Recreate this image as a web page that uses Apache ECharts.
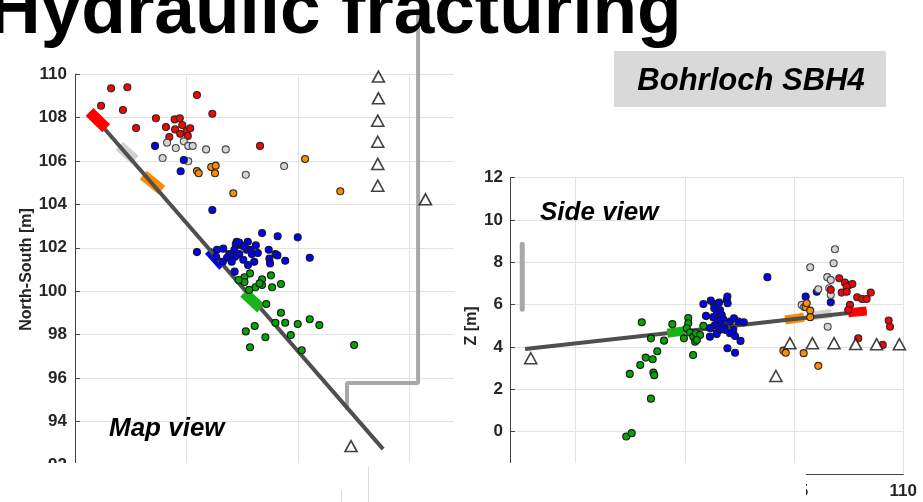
<!DOCTYPE html>
<html><head><meta charset="utf-8">
<script src="https://cdn.jsdelivr.net/npm/echarts@6/dist/echarts.min.js"></script>
<style>html,body{margin:0;padding:0;background:#fff;}#c{width:923px;height:502px;}</style>
</head><body><div id="c"></div>
<script>
// ---------- Map view (left): [East-West, North-South] ----------
const mapRed = [[41.62,109.34],[42.35,109.39],[41.17,108.54],[42.15,108.34],[42.74,107.51],[45.47,109.03],[46.16,108.17],[43.63,107.96],[44.08,107.56],[44.23,107.10],[44.47,107.91],[44.70,107.96],[44.81,107.65],[44.49,107.45],[44.72,107.25],[45.01,107.38],[45.17,107.50],[45.06,107.15],[48.30,106.69]];
const mapGray = [[44.13,106.84],[44.52,106.59],[43.93,106.13],[44.88,106.90],[45.08,106.69],[45.28,106.69],[45.08,105.98],[45.88,106.53],[46.76,106.53],[47.66,105.36],[49.38,105.76]];
const mapOrange = [[45.47,105.53],[45.55,105.43],[46.11,105.72],[46.31,105.78],[46.28,105.43],[47.10,104.51],[50.32,106.09],[51.90,104.60]];
const mapBlue = [[43.59,106.69],[44.88,106.04],[44.74,105.52],[46.16,103.74],[48.39,102.68],[49.09,102.53],[49.99,102.48],[50.53,101.54],[45.47,101.80],[46.37,101.91],[46.65,101.96],[47.25,102.27],[47.21,102.16],[47.46,102.11],[47.75,102.28],[48.11,102.11],[48.69,101.91],[48.99,101.71],[49.43,101.40],[48.72,101.50],[48.75,101.28],[47.15,101.91],[47.70,101.91],[47.88,101.91],[47.93,101.71],[48.20,101.76],[48.04,101.36],[47.76,101.21],[47.55,101.45],[47.37,101.71],[47.18,101.59],[46.92,101.71],[46.82,101.54],[47.03,101.36],[46.63,101.36],[46.33,101.59],[47.16,100.90],[49.08,101.65],[47.36,102.24],[47.60,102.05]];
const mapGreen = [[47.85,100.82],[47.60,100.64],[47.60,100.42],[48.79,100.73],[48.39,100.55],[48.39,100.29],[48.09,100.18],[47.81,100.06],[48.84,100.18],[49.24,100.33],[48.28,100.36],[48.58,99.41],[49.24,99.01],[48.99,98.55],[49.43,98.55],[49.99,98.49],[50.53,98.71],[50.96,98.44],[49.68,97.98],[48.06,98.40],[47.66,98.15],[48.54,97.88],[47.85,97.42],[50.17,97.28],[52.52,97.52],[47.34,100.52]];
const mapTriangles = [[53.61,109.88],[53.61,108.88],[53.58,107.85],[53.58,106.88],[53.58,105.86],[53.58,104.86],[55.72,104.23],[52.38,92.87]];
const mapWell = [[40.67,108.25],[53.82,92.73]];
const mapStageRed = [[40.65,108.25],[41.40,107.50]];
const mapStageGray = [[41.99,106.69],[42.69,106.04]];
const mapStageOrange = [[43.06,105.35],[43.89,104.66]];
const mapStageBlue = [[45.98,101.86],[46.62,101.13]];
const mapStageGreen = [[47.58,99.93],[48.34,99.21]];
const mapTunnel = [[55.39,113.0],[55.39,95.77],[52.20,95.77],[52.20,94.53]];

// ---------- Side view (right): [North-South, Z] ----------
const sideGreen = [[98.03,5.17],[98.45,4.41],[99.05,4.30],[98.21,3.50],[98.74,3.80],[97.96,3.15],[98.53,3.42],[97.48,2.73],[98.56,2.79],[98.60,2.67],[98.45,1.56],[97.32,-0.23],[97.57,-0.07],[99.43,5.08],[100.16,5.37],[100.16,5.12],[100.09,4.89],[100.24,4.68],[100.39,4.49],[100.51,4.65],[100.70,4.57],[100.47,4.25],[100.55,4.33],[100.85,5.00],[100.38,3.62],[99.96,4.41]];
const sideBlue = [[103.78,7.30],[100.85,6.03],[101.19,6.19],[101.34,6.03],[101.57,6.10],[101.92,6.22],[101.96,6.07],[101.35,5.83],[101.61,5.75],[101.46,5.56],[101.69,5.51],[101.30,5.41],[101.53,5.28],[101.76,5.31],[101.61,5.12],[101.38,5.04],[101.79,4.96],[102.07,5.20],[102.25,5.36],[102.45,5.20],[102.70,5.17],[102.22,4.81],[102.07,4.65],[101.84,4.81],[101.61,4.81],[101.46,4.62],[101.15,4.49],[102.30,4.52],[102.55,4.29],[101.95,3.94],[102.30,3.73],[105.53,6.38],[106.04,6.61],[106.68,6.11],[101.15,4.90],[100.97,5.47],[101.95,6.39]];
const sideGray = [[106.87,8.62],[106.81,7.96],[105.74,7.77],[106.52,7.30],[106.68,7.17],[106.61,6.78],[106.68,6.46],[106.11,6.73],[105.35,5.99],[106.54,4.96],[105.46,5.89]];
const sideRed = [[107.07,7.25],[107.33,7.04],[107.53,6.93],[107.67,6.98],[107.41,6.85],[107.18,6.57],[107.41,6.61],[108.51,6.57],[107.89,6.35],[108.12,6.27],[108.32,6.27],[107.56,5.99],[107.48,5.75],[106.68,6.70],[107.94,4.41],[109.06,4.10],[109.33,5.25],[109.39,4.96]];
const sideOrange = [[105.53,5.88],[105.74,5.72],[105.74,5.41],[104.51,3.83],[104.62,3.73],[105.44,3.71],[106.11,3.11],[105.58,6.07]];
const sideTriangles = [[92.95,3.47],[104.17,2.63],[104.81,4.18],[105.84,4.18],[106.83,4.18],[107.82,4.14],[108.78,4.13],[109.82,4.13]];
const sideWell = [[92.69,3.91],[108.32,5.70]];
const sideStageGreen = [[99.20,4.65],[100.01,4.77]];
const sideStageBlue = [[101.15,4.90],[101.69,4.96]];
const sideStageOrange = [[104.59,5.28],[105.46,5.41]];
const sideStageGray = [[105.88,5.48],[106.72,5.59]];
const sideStageRed = [[107.48,5.62],[108.32,5.70]];
const sideBar = [[92.56,8.85],[92.56,5.78]];

// ---------- Axes ----------
const mapXRange = [40, 57];
const mapYRange = [92, 110];
const sideXRange = [92, 110];
const sideYRange = [-2, 12];

const FONT = 'Liberation Sans, Arial, sans-serif';
const tickLabel = {fontFamily: FONT, fontWeight: 'bold', fontSize: 17, color: '#262626'};
const GRIDC = '#e2e2e2';
const TR = 'rgba(0,0,0,0)';

function dots(data, color, border, i) {
  return {type: 'scatter', xAxisIndex: i, yAxisIndex: i, data: data, symbol: 'circle', symbolSize: 7,
    itemStyle: {color: color, borderColor: border, borderWidth: 1.1, opacity: 1}, z: 6, silent: true};
}
function tris(data, i) {
  return {type: 'scatter', xAxisIndex: i, yAxisIndex: i, data: data, symbol: 'triangle', symbolSize: [12, 11],
    itemStyle: {color: '#fff', borderColor: '#111', borderWidth: 1.6}, z: 6, silent: true};
}
function seg(data, color, width, z, i, extra) {
  return Object.assign({type: 'line', xAxisIndex: i, yAxisIndex: i, data: data, symbol: 'none', showSymbol: false,
    lineStyle: {color: color, width: width, cap: 'butt'}, z: z, silent: true}, extra || {});
}

const chart = echarts.init(document.getElementById('c'));
chart.setOption({
  animation: false,
  backgroundColor: '#fff',
  grid: [
    {left: 75, top: 74, width: 379, height: 391},
    {left: 510, top: 177.7, width: 393.3, height: 296.3}
  ],
  xAxis: [
    {gridIndex: 0, type: 'value', min: mapXRange[0], max: mapXRange[1], interval: 5,
      axisLine: {show: false}, axisTick: {show: false}, axisLabel: {show: false},
      splitLine: {show: true, showMinLine: false, showMaxLine: false, lineStyle: {color: GRIDC, width: 1}}},
    {gridIndex: 1, type: 'value', min: sideXRange[0], max: sideXRange[1], interval: 1,
      axisLine: {show: true, onZero: false, lineStyle: {color: '#444', width: 1}}, axisTick: {show: false},
      axisLabel: Object.assign({margin: 9, formatter: function (v) { return v % 5 === 0 ? String(v) : ''; }}, tickLabel),
      splitLine: {show: true, lineStyle: {color: [TR, TR, TR, GRIDC, TR], width: 1}}}
  ],
  yAxis: [
    {gridIndex: 0, type: 'value', min: mapYRange[0], max: mapYRange[1], interval: 2,
      name: 'North-South [m]', nameLocation: 'middle', nameGap: 40,
      nameTextStyle: {fontFamily: FONT, fontWeight: 'bold', fontSize: 16, color: '#262626'},
      axisLine: {show: true, onZero: false, lineStyle: {color: '#444', width: 1}},
      axisTick: {show: true, inside: true, length: 5, lineStyle: {color: '#444'}},
      axisLabel: Object.assign({margin: 8}, tickLabel),
      splitLine: {show: true, lineStyle: {color: GRIDC, width: 1}}},
    {gridIndex: 1, type: 'value', min: sideYRange[0], max: sideYRange[1], interval: 2,
      name: 'Z [m]', nameLocation: 'middle', nameGap: 30,
      nameTextStyle: {fontFamily: FONT, fontWeight: 'bold', fontSize: 16, color: '#262626'},
      axisLine: {show: true, onZero: false, lineStyle: {color: '#444', width: 1}},
      axisTick: {show: true, inside: true, length: 5, lineStyle: {color: '#444'}},
      axisLabel: Object.assign({margin: 7}, tickLabel),
      splitLine: {show: true, lineStyle: {color: GRIDC, width: 1}}}
  ],
  series: [
    // map view
    seg(mapTunnel, '#a8a8a8', 4, 2, 0, {clip: false}),
    seg(mapStageGray, '#d2d2d2', 11, 3, 0),
    seg(mapStageOrange, '#ff8c00', 11, 3, 0),
    seg(mapStageBlue, '#0000ff', 9, 3, 0),
    seg(mapWell, '#4f4f4f', 4, 4, 0),
    seg(mapStageRed, '#ff0000', 11, 5, 0),
    seg(mapStageGreen, '#19b219', 11, 5, 0),
    dots(mapRed, '#ff0000', '#2a2a2a', 0),
    dots(mapGray, '#d4d4d4', '#4a4a4a', 0),
    dots(mapOrange, '#ff8c00', '#2a2a2a', 0),
    dots(mapBlue, '#0000ff', '#1a1a1a', 0),
    dots(mapGreen, '#00a800', '#1a1a1a', 0),
    tris(mapTriangles, 0),
    // side view
    seg(sideBar, '#a8a8a8', 5, 2, 1, {lineStyle: {color: '#a8a8a8', width: 5, cap: 'round'}}),
    seg(sideStageGray, '#d2d2d2', 9, 3, 1),
    seg(sideStageOrange, '#ff8c00', 9, 3, 1),
    seg(sideStageBlue, '#0000ff', 8, 3, 1),
    seg(sideWell, '#4f4f4f', 4, 4, 1),
    seg(sideStageRed, '#ff0000', 9, 5, 1),
    seg(sideStageGreen, '#19b219', 9, 5, 1),
    dots(sideGreen, '#00a800', '#1a1a1a', 1),
    dots(sideBlue, '#0000ff', '#1a1a1a', 1),
    dots(sideGray, '#d4d4d4', '#4a4a4a', 1),
    dots(sideRed, '#ff0000', '#2a2a2a', 1),
    dots(sideOrange, '#ff8c00', '#2a2a2a', 1),
    tris(sideTriangles, 1)
  ],
  graphic: [
    {type: 'rect', z: 100, shape: {x: 0, y: 463, width: 806, height: 39}, style: {fill: '#fff'}, silent: true},
    {type: 'line', z: 101, shape: {x1: 341.5, y1: 490, x2: 341.5, y2: 502}, style: {stroke: '#dcdcdc', lineWidth: 1}, silent: true},
    {type: 'line', z: 101, shape: {x1: 368.5, y1: 467, x2: 368.5, y2: 502}, style: {stroke: '#dcdcdc', lineWidth: 1}, silent: true},
    {type: 'text', z: 102, x: -12, y: 13, style: {text: 'Hydraulic fracturing', font: 'bold 73px ' + FONT, fill: '#000', textAlign: 'left', textVerticalAlign: 'middle'}, silent: true},
    {type: 'rect', z: 102, shape: {x: 614, y: 51, width: 272, height: 56}, style: {fill: '#d9d9d9'}, silent: true},
    {type: 'text', z: 103, x: 751, y: 81, style: {text: 'Bohrloch SBH4', font: 'italic bold 31px ' + FONT, fill: '#000', textAlign: 'center', textVerticalAlign: 'middle'}, silent: true},
    {type: 'text', z: 103, x: 109, y: 429, style: {text: 'Map view', font: 'italic bold 26px ' + FONT, fill: '#000', textAlign: 'left', textVerticalAlign: 'middle'}, silent: true},
    {type: 'text', z: 103, x: 540, y: 213, style: {text: 'Side view', font: 'italic bold 26px ' + FONT, fill: '#000', textAlign: 'left', textVerticalAlign: 'middle'}, silent: true}
  ]
});
</script>
</body></html>
